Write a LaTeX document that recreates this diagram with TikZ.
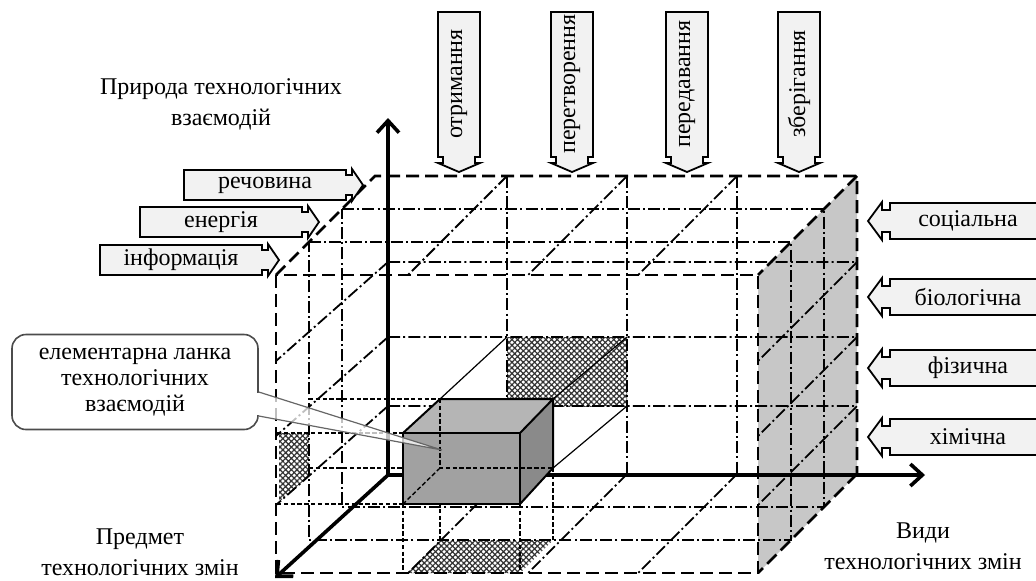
\documentclass[tikz,border=0pt]{standalone}
\usepackage{fontspec}
\setmainfont{Liberation Serif}
\usetikzlibrary{arrows.meta, patterns.meta, calc}
\tikzset{>={Straight Barb[length=6pt,width=11pt]}}

\begin{document}
\begin{tikzpicture}[x=0.5pt, y=-0.5pt, z={(-16.5pt,-16.5pt)},
    edge/.style={line width=1.3pt, dash pattern=on 6.5pt off 3pt},
    grid/.style={line width=0.9pt, dash pattern=on 6pt off 1.6pt on 1pt off 1.6pt},
    hid/.style={line width=0.7pt, dash pattern=on 2.2pt off 1.2pt},
    axis/.style={line width=1.8pt, ->},
    mesh/.style={pattern={Hatch[angle=45,distance=2pt,line width=0.6pt]}, pattern color=black!80},
    tagline/.style={draw, fill=black!5, line width=0.9pt},
    tagtext/.style={font=\fontsize{12}{14}\selectfont, inner sep=0pt},
    txt/.style={font=\fontsize{12}{15.5}\selectfont, align=center},
    note/.style={draw=black!70, fill=white, line width=0.8pt, rounded corners=7pt,
        minimum width=123pt, minimum height=47.5pt, align=center,
        font=\fontsize{12}{13}\selectfont}]

    \useasboundingbox (0,0) rectangle (1036,580);

    % side wall and shaded projections
    \fill[black!22] (857,176,0) -- (857,176,3) -- (857,474,3) -- (857,474,0) -- cycle;
    \path[mesh] (507,337) rectangle (627,406);
    \path[mesh] (279,433) -- (309,433) -- (309,476) -- (279,502) -- cycle;
    \path[mesh] (407,573) -- (440,540) -- (553,540) -- (520,573) -- cycle;

    % grid of the box
    \foreach \k in {1,2}
    {\draw[grid] (375,176,\k) -- (857,176,\k) -- (857,474,\k) -- (375,474,\k) -- cycle;}

    \foreach \c in {507,627,737}
    {\draw[grid] (\c,176,0) -- (\c,474,0);
    \draw[grid] (\c,176,0) -- (\c,176,3);
    \draw[grid] (\c,474,0) -- (\c,474,3); }

    \foreach \r in {262,337,406}
    {\draw[grid] (388,\r,0) -- (857,\r,0) -- (857,\r,3);
    \draw[grid] (388,\r,0) -- (375,\r,3); }

    \draw[edge] (375,176,3) -- (375,176,0) -- (857,176,0) -- (857,474,0);
    \draw[edge] (375,176,3) rectangle (857,474,3);
    \draw[edge] (857,176,0) -- (857,176,3);
    \draw[edge] (857,474,0) -- (857,474,3);

    % axes
    \coordinate (O) at (388,475);
    \coordinate (up) at (388,118);
    \coordinate (right) at (925,475);
    \coordinate (front) at (275,578);
    \draw[axis] (O) -- (up);
    \draw[axis] (O) -- (right);
    \draw[axis] (O) -- (front);

    % elementary cell
    \coordinate (A) at (403,433);
    \coordinate (B) at (520,433);
    \coordinate (C) at (520,504);
    \coordinate (D) at (403,504);
    \coordinate (E) at (440,399);
    \coordinate (F) at (553,399);
    \coordinate (G) at (553,468);
    \coordinate (H) at (440,468);

    \draw[hid] (309,399) -- (E);
    \draw[hid] (277,433) -- (A);
    \draw[hid] (309,468) -- (H);
    \draw[hid] (277,504) -- (D);
    \draw[hid] (D) -- (403,573);
    \draw[hid] (C) -- (520,573);
    \draw[hid] (H) -- (440,540);
    \draw[hid] (G) -- (553,540);
    \draw[line width=0.6pt] (E) -- (507,337);
    \draw[line width=0.6pt] (F) -- (627,337);
    \draw[line width=0.6pt] (G) -- (627,406);

    \fill[black!29] (A) -- (E) -- (F) -- (B) -- cycle;
    \fill[black!46] (B) -- (F) -- (G) -- (C) -- cycle;
    \fill[black!37] (A) rectangle (C);
    \draw[hid] (E) -- (H) -- (G);
    \draw[hid] (H) -- (D);
    \draw[line width=1pt] (A) rectangle (C);
    \draw[line width=1pt] (A) -- (E) -- (F) -- (B);
    \draw[line width=1pt] (F) -- (G) -- (C);

    % axis titles
    \node[txt] (nature) at (221,104) {Природа технологічних\\взаємодій};
    \node[txt] (subject) at (140,552) {Предмет\\технологічних змін};
    \node[txt] (kinds) at (923,546) {Види\\технологічних змін};

    % tags on the left
    \foreach \name/\txt/\xr/\yc in {sub/речовина/346/185, enr/енергія/302/222, inf/інформація/262/260}
    {\draw[tagline] (\xr-162,\yc-15) -- (\xr,\yc-15) -- (\xr,\yc-10) -- (\xr+6,\yc-10) -- (\xr+6,\yc-16)
        -- (\xr+17,\yc) -- (\xr+6,\yc+16) -- (\xr+6,\yc+10) -- (\xr,\yc+10) -- (\xr,\yc+15) -- (\xr-162,\yc+15) -- cycle;
    \node[tagtext] (\name) at (\xr-81,\yc) {\txt}; }

    % tags on the top
    \foreach \name/\txt/\xc in {get/отримання/459, conv/перетворення/572, trans/передавання/687, keep/зберігання/799}
    {\draw[tagline] (\xc-21,12) -- (\xc+21,12) -- (\xc+21,157) -- (\xc+16,157) -- (\xc+16,163) -- (\xc+21,163)
        -- (\xc,172) -- (\xc-21,163) -- (\xc-16,163) -- (\xc-16,157) -- (\xc-21,157) -- cycle;
    \node[tagtext, rotate=90] (\name) at (\xc,84) {\txt}; }

    % tags on the right
    \foreach \name/\txt/\yc in {soc/соціальна/221, bio/біологічна/297, phy/фізична/368, chem/хімічна/437}
    {\draw[tagline] (1046,\yc-18) -- (890,\yc-18) -- (890,\yc-11) -- (882,\yc-11) -- (882,\yc-19) -- (868,\yc)
        -- (882,\yc+19) -- (882,\yc+11) -- (890,\yc+11) -- (890,\yc+18) -- (1046,\yc+18);
    \node[tagtext] (\name) at (968,\yc) {\txt}; }

    % callout
    \node[note] (link) at (135,382) {елементарна ланка\\технологічних\\взаємодій};
    \coordinate (tip) at (442,450);
    \fill[white] ([xshift=-1pt,yshift=-5.3pt]link.east) rectangle ([xshift=1pt,yshift=-16.7pt]link.east);
    \fill[white, fill opacity=0.75] ([yshift=-5pt]link.east) -- (tip) -- ([yshift=-17pt]link.east) -- cycle;
    \draw[black!60, line width=0.6pt] ([yshift=-5pt]link.east) -- (tip) -- ([yshift=-17pt]link.east);

\end{tikzpicture}
\end{document}
